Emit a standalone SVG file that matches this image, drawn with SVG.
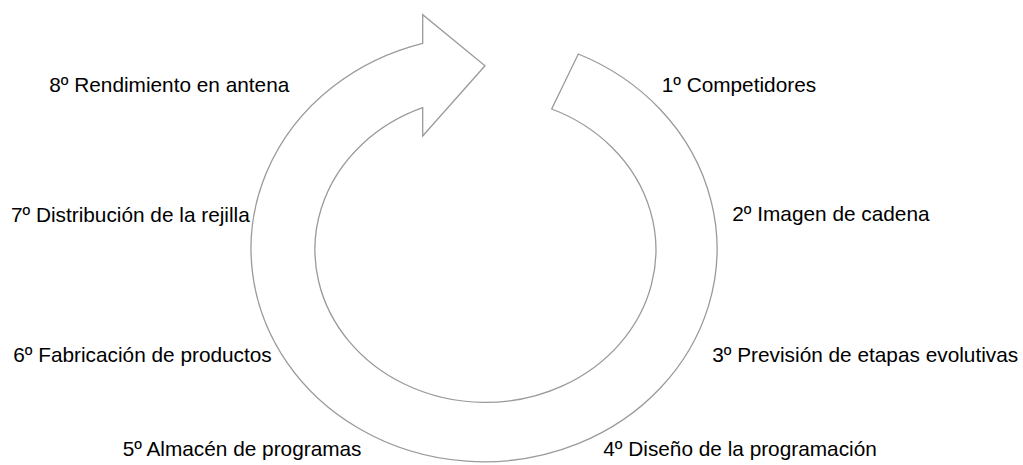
<svg xmlns="http://www.w3.org/2000/svg" width="1023" height="465" viewBox="0 0 1023 465">
<style>
.lbl{font-family:"Liberation Sans",Arial,sans-serif;font-size:20.8px;fill:#000}
.arrow{fill:#fff;stroke:#9a9a9a;stroke-width:1.3;stroke-linejoin:miter}
</style>
<rect width="1023" height="465" fill="#fff"/>
<g id="connectors">
<path id="cycle-arrow" class="arrow" d="M 578.3 54 A 233 213 0 1 1 422.7 43.3 L 422.7 14.7 L 485 65.7 L 422.7 136 L 422.7 107.7 A 170.5 152.7 0 1 0 551.7 109 Z"/>
</g>
<g id="n1"><text class="lbl" x="661.7" y="92">1º Competidores</text></g>
<g id="n2"><text class="lbl" x="732.3" y="221">2º Imagen de cadena</text></g>
<g id="n3"><text class="lbl" x="712.3" y="362">3º Previsión de etapas evolutivas</text></g>
<g id="n4"><text class="lbl" x="603.3" y="456">4º Diseño de la programación</text></g>
<g id="n5"><text class="lbl" x="122.7" y="456">5º Almacén de programas</text></g>
<g id="n6"><text class="lbl" x="13.3" y="362">6º Fabricación de productos</text></g>
<g id="n7"><text class="lbl" x="11" y="222">7º Distribución de la rejilla</text></g>
<g id="n8"><text class="lbl" x="49.3" y="92">8º Rendimiento en antena</text></g>
</svg>
